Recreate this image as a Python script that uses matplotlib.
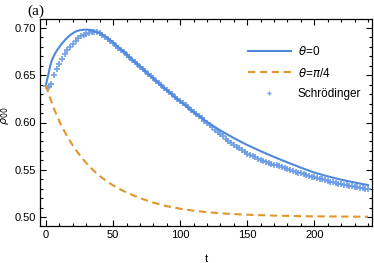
import numpy as np
import matplotlib
matplotlib.use("Agg")
import matplotlib.pyplot as plt
from matplotlib.ticker import MultipleLocator

# --- data ---
# theta = 0 (solid)
t_theta0 = [0, 1, 2, 3, 4, 5, 6, 7, 8, 10, 12, 14, 16, 18, 20, 22, 25, 28, 31, 34,
            37, 40, 43, 46, 50, 55, 60, 70, 80, 90, 100, 110, 120, 130, 140, 150,
            160, 170, 180, 190, 200, 210, 220, 230, 240]
rho_theta0 = [0.6400, 0.6465, 0.6525, 0.6595, 0.6645, 0.6680, 0.6710, 0.6737, 0.6760,
              0.6800, 0.6838, 0.6870, 0.6900, 0.6925, 0.6945, 0.6962, 0.6976, 0.6982,
              0.6982, 0.6976, 0.6962, 0.6945, 0.6922, 0.6893, 0.6845, 0.6782, 0.6720,
              0.6592, 0.6465, 0.6342, 0.6222, 0.6112, 0.6005, 0.5915, 0.5835, 0.5762,
              0.5697, 0.5635, 0.5578, 0.5522, 0.5470, 0.5430, 0.5395, 0.5365, 0.5338]

# theta = pi/4 (dashed)
t_theta4 = [0, 2, 4, 6, 8, 10, 13, 16, 20, 24, 28, 32, 36, 40, 45, 50, 55, 60, 70, 80,
            90, 100, 110, 120, 135, 150, 170, 190, 210, 240]
rho_theta4 = [0.6395, 0.6300, 0.6220, 0.6145, 0.6075, 0.6010, 0.5925, 0.5850, 0.5755,
              0.5675, 0.5603, 0.5540, 0.5485, 0.5435, 0.5380, 0.5335, 0.5295, 0.5260,
              0.5200, 0.5152, 0.5115, 0.5088, 0.5067, 0.5051, 0.5035, 0.5024, 0.5015,
              0.5009, 0.5006, 0.5003]

# Schroedinger (crosses), every 2 time units
t_schr = list(range(0, 241, 2))
rho_schr = [
    0.6385, 0.6372, 0.6405, 0.6500, 0.6568, 0.6622, 0.6675, 0.6725, 0.6765, 0.6802,
    0.6835, 0.6864, 0.6889, 0.6910, 0.6927, 0.6940, 0.6950, 0.6956, 0.6957, 0.6953,
    0.6943, 0.6928, 0.6908, 0.6886, 0.6862, 0.6837, 0.6813, 0.6789, 0.6765, 0.6741,
    0.6716, 0.6691, 0.6666, 0.6641, 0.6616, 0.6591, 0.6566, 0.6541, 0.6516, 0.6491,
    0.6466, 0.6441, 0.6417, 0.6393, 0.6369, 0.6345, 0.6321, 0.6297, 0.6274, 0.6251,
    0.6228, 0.6205, 0.6182, 0.6159, 0.6136, 0.6113, 0.6090, 0.6067, 0.6044, 0.6021,
    0.5998, 0.5973, 0.5948, 0.5923, 0.5899, 0.5875, 0.5852, 0.5829, 0.5807, 0.5786,
    0.5765, 0.5745, 0.5726, 0.5707, 0.5689, 0.5672, 0.5657, 0.5643, 0.5630, 0.5618,
    0.5607, 0.5596, 0.5586, 0.5575, 0.5565, 0.5555, 0.5546, 0.5536, 0.5527, 0.5517,
    0.5508, 0.5499, 0.5489, 0.5480, 0.5471, 0.5462, 0.5454, 0.5445, 0.5437, 0.5428,
    0.5420, 0.5413, 0.5405, 0.5398, 0.5390, 0.5383, 0.5375, 0.5368, 0.5360, 0.5353,
    0.5347, 0.5342, 0.5337, 0.5333, 0.5328, 0.5322, 0.5316, 0.5310, 0.5304, 0.5299,
    0.5295]

xticks = [0, 50, 100, 150, 200]
yticks = [0.50, 0.55, 0.60, 0.65, 0.70]

blue = "#4f88dd"
cross_blue = "#6a9be6"
orange = "#e0962a"

plt.rcParams["font.family"] = ["Liberation Sans", "DejaVu Sans"]

fig = plt.figure(figsize=(3.74, 2.63), dpi=100)
ax = fig.add_axes([40 / 374, 37 / 263, 332 / 374, 207 / 263])

ax.plot(t_theta0, rho_theta0, color=blue, lw=1.5, label=r"$\theta$=0", zorder=3)
ax.plot(t_theta4, rho_theta4, color=orange, lw=1.5, ls=(0, (3.5, 2.2)),
        label=r"$\theta$=$\pi$/4", zorder=3)
ax.plot(t_schr, rho_schr, ls="none", marker="+", ms=4.5, mew=1.3, color=cross_blue,
        alpha=0.9, label="Schrödinger", zorder=2)

ax.set_xlim(-4.5, 243)
ax.set_ylim(0.4905, 0.7095)
ax.set_xticks(xticks)
ax.set_yticks(yticks)
ax.set_yticklabels([f"{v:.2f}" for v in yticks])
ax.xaxis.set_minor_locator(MultipleLocator(10))
ax.yaxis.set_minor_locator(MultipleLocator(0.01))
ax.tick_params(which="both", direction="in", top=True, right=True, labelsize=8,
               width=0.8, pad=3)
ax.tick_params(which="major", length=4)
ax.tick_params(which="minor", length=2.5)
for s in ax.spines.values():
    s.set_linewidth(0.9)

ax.set_xlabel("t", fontsize=8, labelpad=10)
ax.set_ylabel(r"$\rho_{00}$", fontsize=8)
ax.yaxis.set_label_coords(-0.088, 0.53)

fig.text(27 / 374, 1 - 11 / 263, "(a)", fontsize=11, family="Liberation Serif",
         va="center", ha="left")

leg = ax.legend(loc="upper left", bbox_to_anchor=(0.627, 0.876), frameon=False,
                fontsize=8.5, handlelength=3.6, handletextpad=0.6, labelspacing=0.75,
                borderpad=0, borderaxespad=0)
leg.legend_handles[2].set_markersize(3.5)
leg.legend_handles[2].set_markeredgewidth(1.0)

fig.savefig("out.png", dpi=100)
